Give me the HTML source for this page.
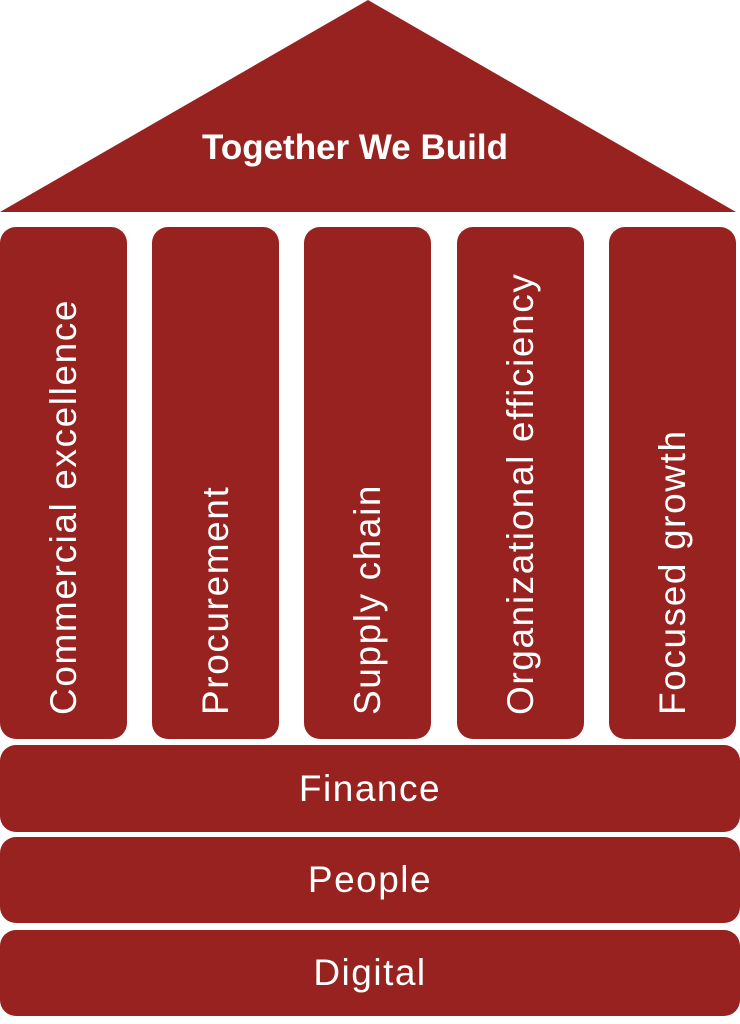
<!DOCTYPE html>
<html><head><style>
body{margin:0;width:740px;height:1024px;background:#fff;position:relative;overflow:hidden;font-family:"Liberation Sans",sans-serif;}
.p{position:absolute;top:227px;height:512px;width:127px;background:#97221f;border-radius:16px;}
.p span{position:absolute;left:50%;bottom:-16px;transform-origin:0 0;transform:rotate(-90deg) translateY(-50%);white-space:nowrap;color:#fff;font-size:37px;letter-spacing:1.6px;line-height:40px;}
.b{position:absolute;left:0;width:740px;background:#97221f;border-radius:16px;color:#fff;font-size:37px;letter-spacing:1.5px;display:flex;align-items:center;justify-content:center;}
</style></head><body>
<svg width="740" height="214" style="position:absolute;left:0;top:0">
<polygon points="368,0 736,212 0,212" fill="#97221f"/>
<text x="355" y="159" text-anchor="middle" fill="#fff" font-family="Liberation Sans" font-weight="bold" font-size="35">Together We Build</text>
</svg>
<div class="p" style="left:0"><span>Commercial excellence</span></div>
<div class="p" style="left:152px"><span>Procurement</span></div>
<div class="p" style="left:304px"><span>Supply chain</span></div>
<div class="p" style="left:457px"><span>Organizational efficiency</span></div>
<div class="p" style="left:609px"><span>Focused growth</span></div>
<div class="b" style="top:745px;height:87px">Finance</div>
<div class="b" style="top:837px;height:86px">People</div>
<div class="b" style="top:930px;height:86px">Digital</div>
</body></html>
